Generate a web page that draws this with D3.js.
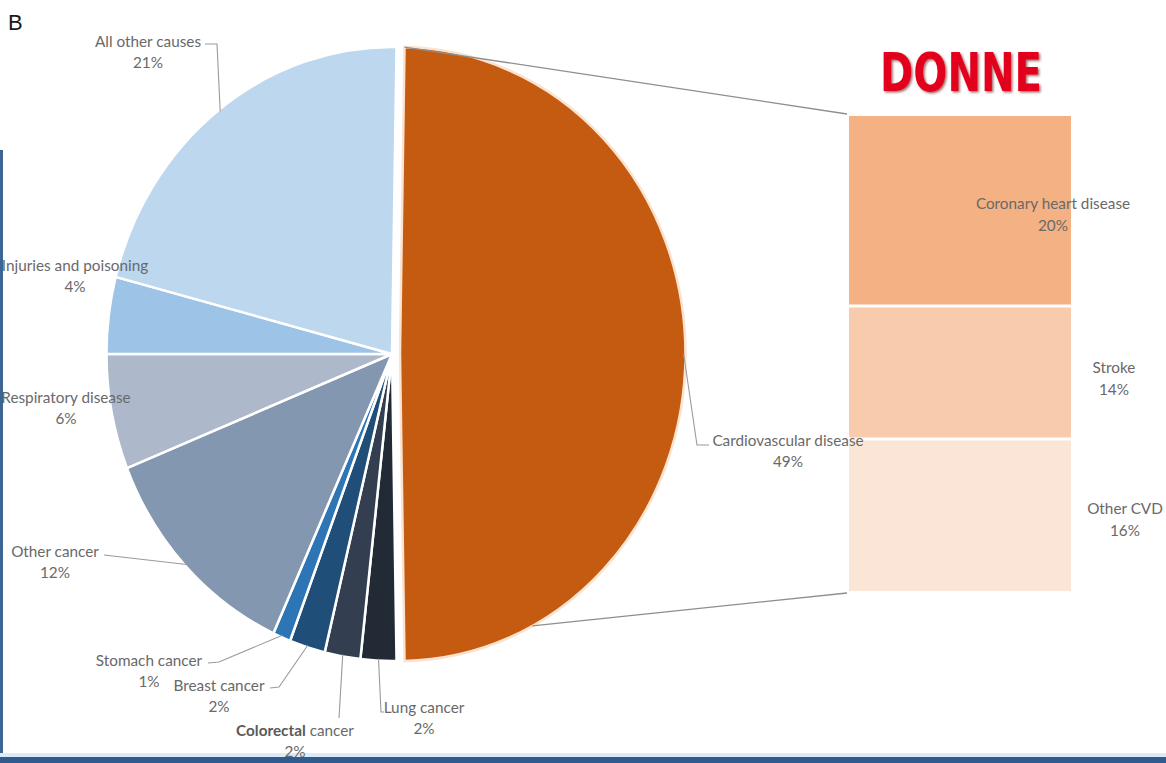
<!DOCTYPE html>
<html>
<head>
<meta charset="utf-8">
<script src="https://cdn.jsdelivr.net/npm/d3@7"></script>
<style>
  html, body { margin: 0; padding: 0; background: #ffffff; }
  svg { display: block; }
  .lbl { font-family: Lato, "Open Sans", sans-serif; font-size: 15.3px; fill: #696969; }
</style>
</head>
<body>
<svg id="chart" width="1166" height="763"></svg>
<script>
// Causes of death, share of all deaths (%)
const causes = [
  "Cardiovascular disease", "Lung cancer", "Colorectal cancer", "Breast cancer",
  "Stomach cancer", "Other cancer", "Respiratory disease",
  "Injuries and poisoning", "All other causes"
];
const shares = [49, 2, 2, 2, 1, 12, 6, 4, 21];
const sliceColors = [
  "#c55a11", "#222a35", "#333f50", "#1f4e79",
  "#2e75b6", "#8497b0", "#adb9ca", "#9dc3e6", "#bdd7ee"
];

// Breakdown of cardiovascular disease (%)
const cvdParts = ["Coronary heart disease", "Stroke", "Other CVD"];
const cvdShares = [20, 14, 16];
const cvdColors = ["#f4b183", "#f8cbad", "#fbe5d6"];

// Label placement: text centre, leader path (elbow and end) — null when no leader
const labelLayout = {
  "All other causes":       { x: 148, y: 42,  leader: [[217, 44], [205, 44]] },
  "Injuries and poisoning": { x: 75,  y: 266, leader: null },
  "Respiratory disease":    { x: 66,  y: 398, leader: null },
  "Other cancer":           { x: 55,  y: 552, leader: [[104, 555]] },
  "Stomach cancer":         { x: 149, y: 661, leader: [[219, 662], [208, 663]] },
  "Breast cancer":          { x: 219, y: 686, leader: [[279, 687], [270, 688]] },
  "Colorectal cancer":      { x: 295, y: 731, leader: [[339, 718]] },
  "Lung cancer":            { x: 424, y: 708, leader: [[381, 712], [384, 712]] },
  "Cardiovascular disease": { x: 788, y: 441, leader: [[697, 445], [709, 445]] }
};
const cvdLabelLayout = [
  { x: 1053, y: 204 },
  { x: 1114, y: 368 },
  { x: 1125, y: 509 }
];

const svg = d3.select("#chart");

// page frame: blue rule on the left and a band along the bottom
svg.append("rect").attr("x", 0).attr("y", 150).attr("width", 3).attr("height", 613).attr("fill", "#3c6594");
svg.append("rect").attr("x", 0).attr("y", 753).attr("width", 1166).attr("height", 4).attr("fill", "#dcebf7");
svg.append("rect").attr("x", 0).attr("y", 757).attr("width", 1166).attr("height", 6).attr("fill", "#2f5b8e");

// panel letter
svg.append("text").attr("x", 8).attr("y", 30)
  .attr("font-family", "Liberation Sans, Arial, sans-serif").attr("font-size", 22)
  .attr("fill", "#1a1a1a").text("B");

// ---- Pie (slightly squeezed horizontally) ----
const cx = 392, cy = 354, R = 307, sx = 0.93, explode = 8;
const total = d3.sum(shares);
const cvdAngle = shares[0] / total * 2 * Math.PI;
const start = Math.PI / 2 - cvdAngle / 2;   // CVD slice centred on the right

const pie = d3.pie().sort(null).value(d => d)
  .startAngle(start).endAngle(start + 2 * Math.PI);
const arcs = pie(shares);
const arc = d3.arc().innerRadius(0).outerRadius(R);

const pt = (a, r, dx = 0) => [cx + dx + sx * r * Math.sin(a), cy - r * Math.cos(a)];

const pieG = svg.append("g");
pieG.selectAll("path").data(arcs).join("path")
  .attr("transform", (d, i) => `translate(${cx + (i === 0 ? explode : 0)},${cy}) scale(${sx},1)`)
  .attr("d", arc)
  .attr("fill", (d, i) => sliceColors[i])
  .attr("stroke", (d, i) => i === 0 ? "#fbe3cf" : "#ffffff")
  .attr("stroke-width", 2.5)
  .attr("vector-effect", "non-scaling-stroke");

// ---- Stacked bar for the CVD breakdown ----
const barX = 849, barW = 222, gap = 3;
const y = d3.scaleLinear().domain([0, d3.sum(cvdShares)]).range([116, 591]);
const cum = d3.cumsum(cvdShares);
const segs = cvdShares.map((v, i) => ({ name: cvdParts[i], y0: cum[i] - v, y1: cum[i], i }));

// series lines joining the CVD slice to the bar
const cvdArc = arcs[0];
const topStart = pt(cvdArc.startAngle, R, explode);
const botStart = pt(cvdArc.startAngle + (cvdArc.endAngle - cvdArc.startAngle) * 0.85, R, explode);
const lineG = svg.append("g").attr("stroke", "#8e8e8e").attr("stroke-width", 1.3).attr("fill", "none");
lineG.append("line").attr("x1", topStart[0]).attr("y1", topStart[1]).attr("x2", barX - 2).attr("y2", y(0) - 2);
lineG.append("line").attr("x1", botStart[0]).attr("y1", botStart[1]).attr("x2", barX - 2).attr("y2", y(d3.sum(cvdShares)) + 2);

svg.append("g").selectAll("rect").data(segs).join("rect")
  .attr("x", barX)
  .attr("y", d => y(d.y0) + (d.i === 0 ? 0 : gap / 2))
  .attr("width", barW)
  .attr("height", d => y(d.y1) - y(d.y0) - (d.i === 0 || d.i === segs.length - 1 ? gap / 2 : gap))
  .attr("fill", d => cvdColors[d.i]);

// ---- Pie labels and leader lines ----
const leaderG = svg.append("g").attr("stroke", "#9a9a9a").attr("stroke-width", 1.1).attr("fill", "none");
arcs.forEach((a, i) => {
  const lay = labelLayout[causes[i]];
  if (!lay.leader) return;
  const mid = (a.startAngle + a.endAngle) / 2;
  const p0 = pt(mid, R - 2, i === 0 ? explode : 0);
  leaderG.append("polyline")
    .attr("points", [p0, ...lay.leader].map(p => p.join(",")).join(" "));
});

const labelG = svg.append("g");
causes.forEach((c, i) => {
  const lay = labelLayout[c];
  const t = labelG.append("text").attr("class", "lbl").attr("text-anchor", "middle");
  const l1 = t.append("tspan").attr("x", lay.x).attr("y", lay.y).attr("dy", "0.35em");
  if (c === "Colorectal cancer") {
    l1.append("tspan").attr("font-weight", 700).attr("fill", "#5a5a5a").text("Colorectal");
    l1.append("tspan").text(" cancer");
  } else {
    l1.text(c);
  }
  t.append("tspan").attr("x", lay.x).attr("y", lay.y + 21).attr("dy", "0.35em").text(shares[i] + "%");
});

segs.forEach((s, i) => {
  const lay = cvdLabelLayout[i];
  const t = labelG.append("text").attr("class", "lbl").attr("text-anchor", "middle");
  t.append("tspan").attr("x", lay.x).attr("y", lay.y).attr("dy", "0.35em").text(s.name);
  t.append("tspan").attr("x", lay.x).attr("y", lay.y + 22).attr("dy", "0.35em").text(cvdShares[i] + "%");
});

// ---- Title stamp ----
const defs = svg.append("defs");
const f = defs.append("filter").attr("id", "soft").attr("x", "-10%").attr("y", "-10%").attr("width", "120%").attr("height", "130%");
f.append("feDropShadow").attr("dx", 1.5).attr("dy", 1.5).attr("stdDeviation", 1).attr("flood-color", "#6b0000").attr("flood-opacity", 0.6);
svg.append("text")
  .attr("x", 880).attr("y", 91)
  .attr("font-family", "DejaVu Sans, sans-serif").attr("font-weight", 700).attr("font-size", 54)
  .attr("textLength", 162).attr("lengthAdjust", "spacingAndGlyphs")
  .attr("fill", "#e3001b").attr("filter", "url(#soft)")
  .text("DONNE");
</script>
</body>
</html>
